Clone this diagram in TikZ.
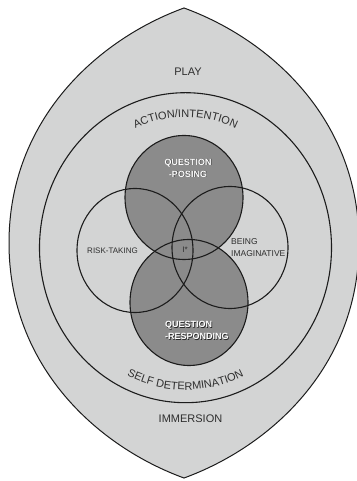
\documentclass[tikz,border=0pt]{standalone}
\usepackage{fontspec}
\setmainfont{Liberation Sans}
\usetikzlibrary{decorations.text}
\definecolor{paleband}{HTML}{D3D4D4}
\definecolor{darkdisc}{HTML}{8B8B8B}
\definecolor{inkline}{HTML}{1C1C1C}
\definecolor{labelink}{HTML}{2E2E2E}
\begin{document}
\begin{tikzpicture}[x=1pt,y=1pt,
  outline/.style={draw=inkline,line width=1.1pt},
  bandlabel/.style={text=labelink,font=\fontsize{11}{13}\selectfont,inner sep=0pt},
  venlabel/.style={text=labelink,font=\fontsize{8}{10}\selectfont,inner sep=0pt},
  qshadow/.style={text=black!85,font=\bfseries\fontsize{9}{12}\selectfont,inner sep=0pt},
  qlabel/.style={text=white,font=\bfseries\fontsize{9}{12}\selectfont,inner sep=0pt}]
\useasboundingbox (0,0) rectangle (356,481);
\fill[white] (0,0) rectangle (356,481);

% outer pointed lens (PLAY / IMMERSION band)
\filldraw[fill=paleband,draw=inkline,line width=1pt]
  (184,473) .. controls (99.4,442.2) and (9,363) .. (9,238)
  .. controls (9,113) and (99.4,33.8) .. (184,3)
  .. controls (268.6,33.8) and (359,113) .. (359,238)
  .. controls (359,363) and (268.6,442.2) .. (184,473) -- cycle;

% inner ring
\coordinate (ring) at (185.5,233.3);
\draw[outline] (ring) ellipse[x radius=146pt,y radius=155pt];

% Venn circles
\coordinate (qp) at (184,283.5);
\coordinate (qr) at (189,178.5);
\coordinate (rt) at (135,230.5);
\coordinate (bi) at (230,233.5);
\fill[darkdisc] (qp) ellipse[x radius=59pt,y radius=62pt];
\fill[darkdisc] (qr) ellipse[x radius=59pt,y radius=63pt];
\draw[outline] (qp) ellipse[x radius=59pt,y radius=62pt];
\draw[outline] (qr) ellipse[x radius=59pt,y radius=63pt];
\draw[outline] (rt) ellipse[x radius=58pt,y radius=62pt];
\draw[outline] (bi) ellipse[x radius=58pt,y radius=61pt];

% band labels
\node[bandlabel] (play) at (188,409) {PLAY};
\node[bandlabel] (immersion) at (190.5,62.5) {IMMERSION};
\path[decorate,decoration={text along path,text align=center,
    text={|\color{labelink}\fontsize{11}{13}\selectfont|ACTION/INTENTION}}]
  (ring) ++(125:122.7pt and 130.7pt)
  arc[start angle=125,end angle=55,x radius=122.7pt,y radius=130.7pt];
\path[decorate,decoration={text along path,text align=center,
    text={|\color{labelink}\fontsize{11}{13}\selectfont|SELF DETERMINATION}}]
  (ring) ++(215:133.6pt and 142.3pt)
  arc[start angle=215,end angle=325,x radius=133.6pt,y radius=142.3pt];

% Venn labels
\node[venlabel] (risk) at (112.5,230.3) {RISK-TAKING};
\node[venlabel,anchor=west,align=left,font=\fontsize{8.5}{12}\selectfont] (imag) at (231,233) {BEING\\IMAGINATIVE};
\node[venlabel] (core) at (185,231) {I*};

\node[qshadow,align=center] (posingshade) at (188.6,312.4) {QUESTION\\-POSING};
\node[qlabel,align=center] (posing) at (188,313) {QUESTION\\-POSING};
\node[qshadow,align=left,anchor=west] (respshade) at (165.6,149.9) {QUESTION\\-RESPONDING};
\node[qlabel,align=left,anchor=west] (resp) at (165,150.5) {QUESTION\\-RESPONDING};
\end{tikzpicture}
\end{document}
